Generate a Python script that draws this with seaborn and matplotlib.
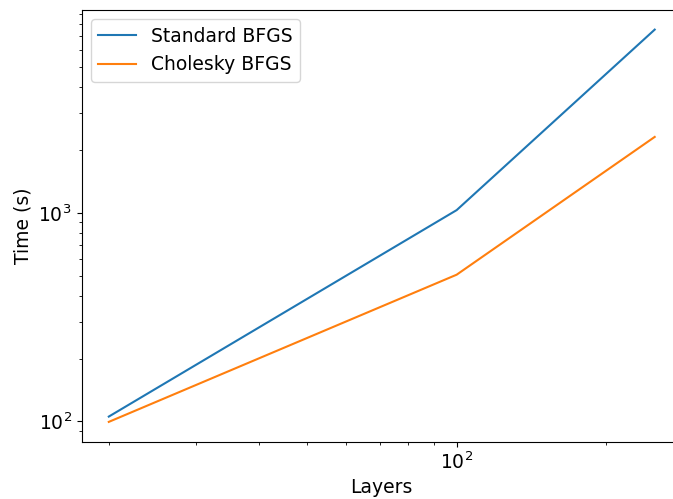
import matplotlib
matplotlib.use("Agg")
import matplotlib.pyplot as plt
import seaborn as sns
import pandas as pd

layers = [20, 100, 250]
standard_bfgs = [105.5, 1030, 7550]
cholesky_bfgs = [99.5, 505, 2310]

df = pd.DataFrame({
    "Layers": layers * 2,
    "Time (s)": standard_bfgs + cholesky_bfgs,
    "Method": ["Standard BFGS"] * 3 + ["Cholesky BFGS"] * 3,
})

plt.rcParams["font.family"] = ["DejaVu Sans"]
plt.rcParams["font.size"] = 13.5

fig = plt.figure(figsize=(6.73, 4.99), dpi=100)
ax = fig.add_axes([81.5 / 673, 1 - 441.5 / 499, (682 - 81.5) / 673, (441.5 - 10) / 499])
sns.lineplot(data=df, x="Layers", y="Time (s)", hue="Method",
             palette=["#1f77b4", "#ff7f0e"], ax=ax, linewidth=1.5)
ax.set_xscale("log")
ax.set_yscale("log")
ax.set_xlabel("Layers", fontsize=13.5)
ax.set_ylabel("Time (s)", fontsize=13.5)
ax.tick_params(labelsize=13.5)
leg = ax.legend(loc="upper left", fontsize=13.5, title=None)
fig.savefig("out.png", dpi=100)
